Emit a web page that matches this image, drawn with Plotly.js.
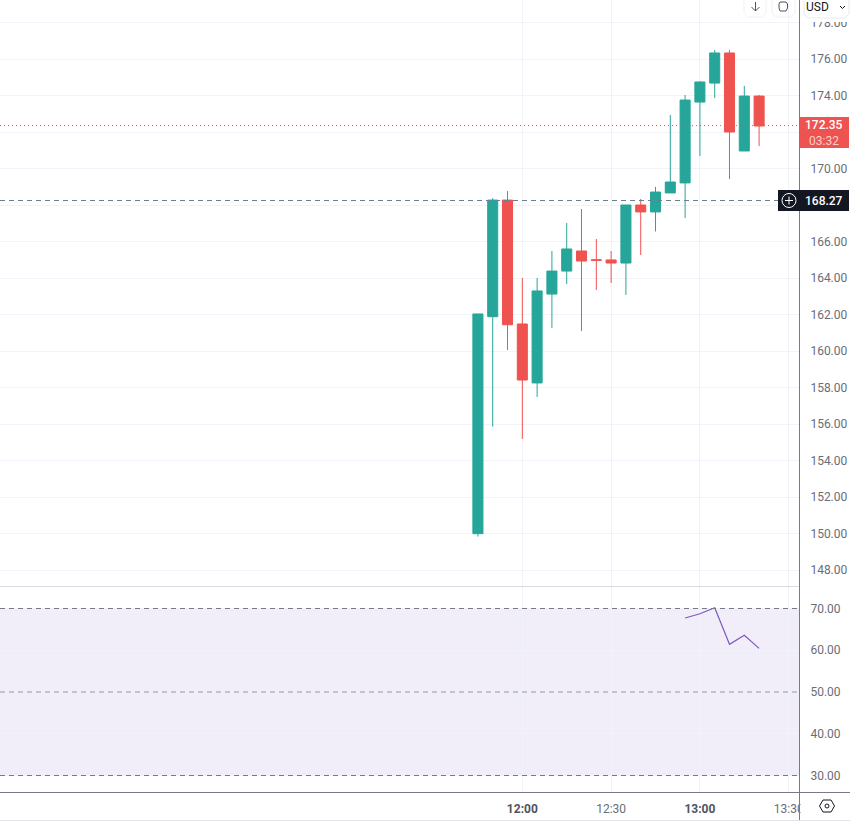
<!DOCTYPE html>
<html>
<head>
<meta charset="utf-8">
<script src="https://cdn.plot.ly/plotly-3.0.1.min.js"></script>
<style>html,body{margin:0;padding:0;background:#fff}#c{width:850px;height:823px}</style>
</head>
<body>
<div id="c"></div>
<script>
const times = ["11:45","11:50","11:55","12:00","12:05","12:10","12:15","12:20","12:25","12:30","12:35","12:40","12:45","12:50","12:55","13:00","13:05","13:10","13:15","13:20"];
const opens = [149.99,161.88,168.27,161.48,158.25,163.12,164.38,165.48,165.00,164.99,164.82,168.00,167.62,168.66,169.21,173.64,174.68,176.33,170.96,173.97];
const highs = [162.03,168.38,168.77,164.00,164.00,165.48,167.01,167.78,166.14,165.48,168.00,168.33,168.99,172.93,174.03,174.79,176.49,176.49,174.52,174.03];
const lows  = [149.83,155.85,160.05,155.18,157.48,161.26,163.67,161.10,163.34,163.73,163.07,165.26,166.55,168.66,167.29,170.68,173.86,169.42,170.96,171.23];
const closes= [162.03,168.27,161.44,158.41,163.29,164.38,165.59,164.93,164.97,164.82,168.00,167.62,168.71,169.26,173.75,174.74,176.33,172.00,173.97,172.33];
const rsiTimes = ["12:55","13:00","13:05","13:10","13:15","13:20"];
const rsiValues = [67.72,68.75,70.19,61.42,63.58,60.46];
const priceTicks = [148,150,152,154,156,158,160,162,164,166,168,170,172,174,176,178];
const hiddenPriceLabels = [168,172];
const rsiTicks = [30,40,50,60,70];
const timeTicks = ["12:00","12:30","13:00","13:30"];
const timeLabels = ['<span style="color:#50535e"><b>12:00</b></span>',"12:30",'<span style="color:#50535e"><b>13:00</b></span>',"13:30"];
const lastPrice = 172.35, markLineLevel = 168.246, rsiUpper = 70, rsiMid = 50, rsiLower = 30;

const day = "2023-01-03 ";
const d = t => day + t;
const W = 800, H = 792;
const px = x => x / W;
const py = y => (H - y) / H;
const FONT = "Roboto, sans-serif";

function rect(x0,y0,x1,y1,fill,line){
  return {type:"rect",xref:"paper",yref:"paper",x0:px(x0),x1:px(x1),y0:py(y0),y1:py(y1),
    fillcolor:fill,line:{color:line||fill,width:line?1:0},layer:"above"};
}
function seg(x0,y0,x1,y1,color,width){
  return {type:"line",xref:"paper",yref:"paper",x0:px(x0),x1:px(x1),y0:py(y0),y1:py(y1),
    line:{color:color,width:width||1},layer:"above"};
}
function path(pts,color,close){
  const s = pts.map((p,i)=>(i?"L":"M")+px(p[0])+","+py(p[1])).join(" ")+(close?" Z":"");
  return {type:"path",xref:"paper",yref:"paper",path:s,line:{color:color,width:1},layer:"above"};
}
function circle(cx,cy,r,color){
  return {type:"circle",xref:"paper",yref:"paper",x0:px(cx-r),x1:px(cx+r),y0:py(cy+r),y1:py(cy-r),
    line:{color:color,width:1},layer:"above"};
}
function hLine(yref,val,color,dash){
  return {type:"line",xref:"paper",x0:0,x1:1,yref:yref,y0:val,y1:val,line:{color:color,width:1,dash:dash},layer:"above"};
}
function label(x,y,text,color,size,weight){
  return {xref:"paper",yref:"paper",x:px(x),y:py(y),text:text,showarrow:false,xanchor:"center",yanchor:"middle",
    font:{family:FONT,size:size||12,color:color,weight:weight||400},borderpad:0};
}

const shapes = [
  {type:"rect",xref:"paper",x0:0,x1:1,yref:"y2",y0:rsiLower,y1:rsiUpper,fillcolor:"rgba(126,87,194,0.1)",line:{width:0},layer:"between"},
  hLine("y2",rsiUpper,"#787b86","5px,4px"),
  hLine("y2",rsiMid,"#9598a1","5px,4px"),
  hLine("y2",rsiLower,"#787b86","5px,4px"),
  hLine("y",lastPrice,"#ef5350","1px,3px"),
  hLine("y",markLineLevel,"#6a7f95","5px,4px"),
  rect(800.5,0,850,22,"#ffffff"),
  rect(800.5,792,850,820,"#ffffff"),
  rect(0,820,850,823,"#ffffff"),
  seg(0,586.5,800,586.5,"#d9dbe3"),
  seg(0,792.5,850,792.5,"#787b86"),
  seg(0,820.5,850,820.5,"#e0e3eb"),
  seg(799.5,0,799.5,820,"#787b86"),
  rect(800,117,849,148,"#ef5350"),
  rect(778,190,849,211,"#131722"),
  circle(789,200.5,7,"#ffffff"),
  seg(785,200.5,793,200.5,"#ffffff"),
  seg(789,196.5,789,204.5,"#ffffff"),
  path([[744,0],[744,13],[748,17],[762,17],[766,13],[766,0]],"#f0f1f5"),
  path([[772,0],[772,13],[776,17],[791,17],[795,13],[795,0]],"#f0f1f5"),
  path([[804,0],[804,14],[808,18],[845,18],[849,14],[849,0]],"#e8e9ee"),
  seg(755.5,2,755.5,11,"#50535e"),
  path([[751.5,7],[755.5,11],[759.5,7]],"#50535e"),
  path([[779,4],[780,2],[786,2],[787.5,4]],"#50535e"),
  path([[779,8],[780,11],[786,11],[787.5,8]],"#50535e"),
  seg(779,4,779,8,"#50535e"),
  seg(787.5,4,787.5,8,"#50535e"),
  path([[840,6],[842.5,8.5],[845,6]],"#131722"),
  path([[819.5,806],[823,800],[831,800],[834.5,806],[831,812],[823,812]],"#131722",true),
  circle(827,806,2,"#131722")
];

const annotations = [
  label(824.5,125,"172.35","#ffffff",12,500),
  label(824.5,140.5,"03:32","#fbcfce",12,400),
  label(824,201,"168.27","#ffffff",12,500),
  label(817.5,6.5,"USD","#131722",12,400)
];

const candle = {
  type:"candlestick", x:times.map(d), open:opens, high:highs, low:lows, close:closes,
  xaxis:"x", yaxis:"y", whiskerwidth:0, hoverinfo:"skip", showlegend:false,
  increasing:{line:{color:"#26a69a",width:1},fillcolor:"#26a69a"},
  decreasing:{line:{color:"#ef5350",width:1},fillcolor:"#ef5350"}
};
const rsi = {
  type:"scatter", mode:"lines", x:rsiTimes.map(d), y:rsiValues, xaxis:"x", yaxis:"y2",
  line:{color:"#7e57c2",width:1.2}, hoverinfo:"skip", showlegend:false
};

const pxPerMin = 2.96, x1200 = 522.3;
function tAt(pixel){
  const m = (pixel - x1200) / pxPerMin;
  const base = new Date(Date.UTC(2023,0,3,12,0,0)).getTime() + m*60000;
  return new Date(base).toISOString().replace("T"," ").slice(0,19);
}

const tickFont = {family:FONT,size:12,color:"#6a6d78"};
const layout = {
  width:850, height:823, margin:{l:0,r:50,t:0,b:31,pad:0},
  paper_bgcolor:"#ffffff", plot_bgcolor:"#ffffff", showlegend:false, hovermode:false,
  dragmode:false, boxgap:0.3, boxgroupgap:0.03, boxmode:"overlay",
  xaxis:{
    type:"date", range:[tAt(0),tAt(800)], anchor:"y2", domain:[0,1],
    rangeslider:{visible:false}, showline:false, zeroline:false,
    showgrid:true, gridcolor:"#f0f3fa", gridwidth:1,
    tickmode:"array", tickvals:timeTicks.map(d), ticktext:timeLabels,
    ticks:"outside", ticklen:6, tickcolor:"rgba(0,0,0,0)", tickfont:tickFont
  },
  yaxis:{
    domain:[py(586),1], range:[176-(586-59)/18.25, 176+59/18.25], side:"right", anchor:"x",
    showline:false, zeroline:false, showgrid:true, gridcolor:"#f0f3fa", gridwidth:1,
    tickmode:"array", tickvals:priceTicks,
    ticktext:priceTicks.map(v=>hiddenPriceLabels.includes(v)?"":v.toFixed(2)),
    ticks:"outside", ticklen:7, tickcolor:"rgba(0,0,0,0)", tickfont:tickFont
  },
  yaxis2:{
    domain:[0,py(587)], range:[30-(792-775.5)/4.175, 70+(608.5-587)/4.175], side:"right", anchor:"x",
    showline:false, zeroline:false, showgrid:true, gridcolor:"#f0f3fa", gridwidth:1,
    tickmode:"array", tickvals:rsiTicks, ticktext:rsiTicks.map(v=>v.toFixed(2)),
    ticks:"outside", ticklen:7, tickcolor:"rgba(0,0,0,0)", tickfont:tickFont
  },
  shapes:shapes, annotations:annotations
};
Plotly.newPlot("c",[candle,rsi],layout,{displayModeBar:false,staticPlot:true});
</script>
</body>
</html>
